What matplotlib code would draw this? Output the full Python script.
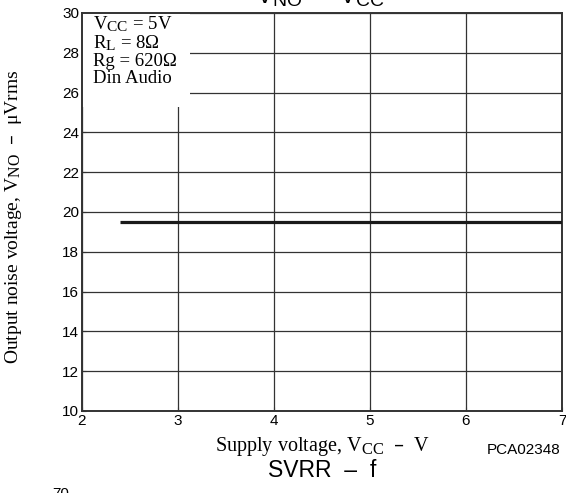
import matplotlib
matplotlib.use("Agg")
import matplotlib.pyplot as plt
from matplotlib.patches import Rectangle
try:
    import matplotlib._mathtext as _mt
    _mt.SHRINK_FACTOR = 0.82
except Exception:
    pass

# Data
supply_voltage = [2.4, 7.0]
noise_uvrms = [19.5, 19.5]
x_ticks = [2, 3, 4, 5, 6, 7]
y_ticks = [10, 12, 14, 16, 18, 20, 22, 24, 26, 28, 30]
conditions = [r"$\mathregular{V_{CC}}$ = 5V", r"$\mathregular{R_L}$ = 8Ω", "Rg = 620Ω", "Din Audio"]

SERIF = "Liberation Serif"
SANS = "Liberation Sans"

fig = plt.figure(figsize=(5.66, 4.93), dpi=100)
W, H = 566, 493
l, r, t, b = 82, 562, 13, 411
ax = fig.add_axes([l / W, 1 - b / H, (r - l) / W, (b - t) / H])

ax.set_xlim(2, 7)
ax.set_ylim(10, 30)
ax.set_xticks(x_ticks)
ax.set_yticks(y_ticks)
ax.set_xticklabels([str(v) for v in x_ticks], family=SANS, fontsize=11)
ax.set_yticklabels([str(v) for v in y_ticks], family=SANS, fontsize=11)
ax.tick_params(direction="in", length=3, width=0.8, color="#333333", pad=2)
ax.grid(True, color="#333333", lw=0.9)
ax.set_axisbelow(True)
for s in ax.spines.values():
    s.set_color("#333333")
    s.set_linewidth(1.4)

# white condition box covering grid
ax.add_patch(Rectangle((0, 1), 0.225, -0.236, transform=ax.transAxes,
                       facecolor="white", edgecolor="none", zorder=1.5))
ax.text(0.022, 0.997, "\n".join(conditions), transform=ax.transAxes, va="top", ha="left",
        family=SERIF, fontsize=13.5, linespacing=0.98, zorder=3)

ax.plot(supply_voltage, noise_uvrms, color="#1a1a1a", lw=2.3, zorder=4, solid_capstyle="butt")

ax.set_xlabel(r"Supply voltage, $\mathregular{V_{CC}}$  –  V", family=SERIF, fontsize=14.5)
ax.xaxis.set_label_coords((323 - l) / (r - l), -(447 - b) / (b - t))
ax.set_ylabel(r"Output noise voltage, $\mathregular{V_{NO}}$  –  μVrms", family=SERIF, fontsize=14)
ax.yaxis.set_label_coords(-(l - 14) / (r - l), (b - 217) / (b - t))
ax.xaxis.label.set_va("center")
ax.yaxis.label.set_va("center")

fig.text(524 / W, 1 - 450 / H, "PCA02348", family=SANS, fontsize=11, ha="center", va="center")
fig.text(322 / W, 1 - 470.5 / H, "SVRR  –  f", family=SANS, fontsize=16.5, ha="center", va="center")
fig.text(321 / W, 1 - (-3) / H, r"$\mathregular{V_{NO}}$  –  $\mathregular{V_{CC}}$", family=SANS,
         fontsize=17, ha="center", va="center")
fig.text(61 / W, 1 - 494 / H, "70", family=SANS, fontsize=11, ha="center", va="center")

fig.savefig("out.png", dpi=100)
